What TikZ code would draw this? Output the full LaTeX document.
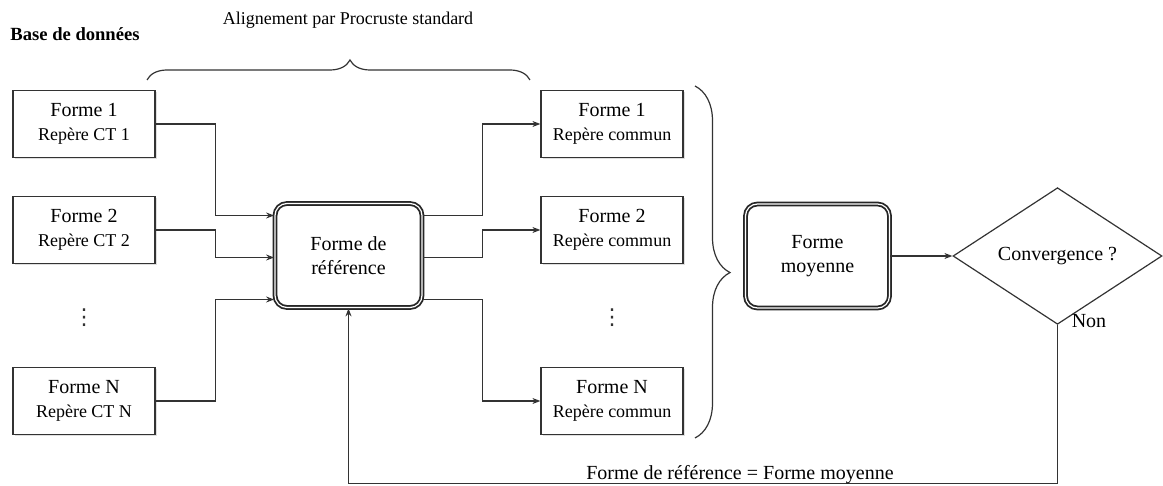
\documentclass[tikz,border=0pt]{standalone}
\usepackage{fontspec}
\setmainfont{Liberation Serif}
\newfontfamily\symbfont{DejaVu Sans}
\usetikzlibrary{calc,shapes.geometric,shadows,arrows.meta,decorations.pathreplacing}

\tikzset{
  trait/.style={draw=black!80,line width=0.6pt},
  fleche/.style={trait,-{Stealth[length=4pt,width=3pt]}},
  forme/.style={draw=black!80,line width=0.6pt,fill=white,minimum width=71pt,minimum height=33.5pt,
    align=center,inner sep=1pt,drop shadow={opacity=.25,shadow xshift=.8pt,shadow yshift=-.8pt}},
  bloc/.style={draw=black!85,line width=0.9pt,double=white,double distance=0.6pt,fill=white,
    rounded corners=6pt,minimum width=72pt,minimum height=52pt,align=center,
    drop shadow={opacity=.25,shadow xshift=.8pt,shadow yshift=-.8pt}},
  points/.style={font=\symbfont\fontsize{11}{12}\selectfont,text=black!80},
  accolade/.style={trait,decorate,decoration={brace,amplitude=#1,aspect=0.53}}
}

\begin{document}
\begin{tikzpicture}[x=0.5pt,y=-0.5pt]
    \useasboundingbox (0,0) rectangle (1163,486);
    \node[font=\bfseries\fontsize{9.3}{11}\selectfont] (base) at (75,34) {Base de données};
    \node[font=\fontsize{9}{11}\selectfont] (align) at (348,20) {Alignement par Procruste standard};
    \foreach \n/\y in {1/124,2/230,N/401}{
        \node[forme] (g\n) at (84,\y) {Forme \n\\{\small Repère CT \n}};
        \node[forme] (d\n) at (612,\y) {Forme \n\\{\small Repère commun}};
      }
    \node[points] (pg) at (84,318) {⋮};
    \node[points] (pd) at (612,318) {⋮};
    \node[bloc,minimum width=73.5pt] (ref) at (348.5,255.5) {Forme de\\référence};
    \node[bloc] (moy) at (817.5,256) {Forme\\moyenne};
    \node[trait,diamond,inner sep=0pt,minimum width=104.5pt,minimum height=42pt] (conv) at (1057.5,256) {Convergence ?};
    \foreach \n/\dy in {1/-40,2/2,N/44}{
        \draw[fleche] (g\n.east) -- ++(60,0) |- ($(ref.west)+(0,\dy)$);
        \draw[fleche] ($(ref.east)+(0,\dy)$) -- ++(59.5,0) |- (d\n.west);
      }
    \draw[accolade=10pt] (147,80) -- (530,80);
    \draw[accolade=17.5pt] (695,86) -- (695,438);
    \draw[fleche] (moy.east) -- (conv.west);
    \draw[fleche] (conv.south) -- ++(0,159) -| (ref.south);
    \node (non) at (1089,321) {Non};
    \node (egal) at (740,475) {Forme de référence = Forme moyenne};
  \end{tikzpicture}
\end{document}
